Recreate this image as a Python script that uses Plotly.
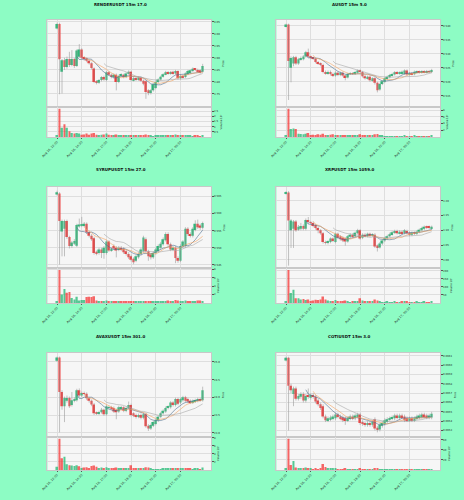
import plotly.graph_objects as go
import pandas as pd

BG = "#8dfcc4"
PLOT_BG = "#f6f6f6"
UP = "#1fb872"
DOWN = "#f43434"
WICK = "#9a9a9a"
MA_COLORS = ["#4d6e8e", "#f3a35f", "#a8a8a8"]
MA_WINDOWS = [9, 12, 20]

tick_idx = [0, 10, 20, 30, 40, 50]
tick_labels = ["Aug 16, 12:00", "Aug 16, 14:30", "Aug 16, 17:00",
               "Aug 16, 19:30", "Aug 16, 22:00", "Aug 17, 00:30"]

# ---------- RENDERUSDT ----------
render_open = [4.022, 4.040, 3.842, 3.890, 3.862, 3.895, 3.870, 3.895, 3.866, 3.905,
               3.935, 3.900, 3.898, 3.888, 3.878, 3.856, 3.802, 3.797, 3.808, 3.820,
               3.808, 3.840, 3.830, 3.820, 3.830, 3.800, 3.825, 3.830, 3.820, 3.835,
               3.842, 3.808, 3.815, 3.810, 3.818, 3.805, 3.803, 3.765, 3.754, 3.765,
               3.775, 3.800, 3.810, 3.822, 3.832, 3.840, 3.835, 3.842, 3.835, 3.845,
               3.815, 3.825, 3.820, 3.832, 3.840, 3.845, 3.855, 3.850, 3.848, 3.842]
render_high = [4.046, 4.046, 3.895, 3.900, 3.905, 3.925, 3.932, 3.900, 3.935, 3.957,
               3.940, 3.905, 3.902, 3.892, 3.882, 3.860, 3.808, 3.812, 3.824, 3.826,
               3.845, 3.845, 3.835, 3.835, 3.835, 3.830, 3.836, 3.834, 3.840, 3.848,
               3.846, 3.820, 3.820, 3.822, 3.822, 3.810, 3.806, 3.770, 3.770, 3.795,
               3.805, 3.815, 3.826, 3.836, 3.846, 3.845, 3.845, 3.846, 3.850, 3.848,
               3.830, 3.830, 3.840, 3.850, 3.852, 3.860, 3.858, 3.855, 3.852, 3.875]
render_low = [4.018, 3.749, 3.752, 3.850, 3.855, 3.862, 3.865, 3.858, 3.862, 3.900,
              3.895, 3.888, 3.882, 3.872, 3.852, 3.795, 3.790, 3.792, 3.802, 3.805,
              3.802, 3.825, 3.815, 3.815, 3.765, 3.795, 3.820, 3.815, 3.816, 3.830,
              3.802, 3.802, 3.805, 3.805, 3.800, 3.786, 3.730, 3.745, 3.748, 3.760,
              3.770, 3.795, 3.805, 3.818, 3.828, 3.830, 3.830, 3.830, 3.830, 3.810,
              3.810, 3.815, 3.816, 3.828, 3.836, 3.840, 3.845, 3.840, 3.835, 3.838]
render_close = [4.040, 3.894, 3.890, 3.862, 3.895, 3.870, 3.895, 3.866, 3.930, 3.935,
                3.900, 3.896, 3.888, 3.878, 3.858, 3.800, 3.797, 3.808, 3.820, 3.810,
                3.840, 3.830, 3.820, 3.830, 3.800, 3.825, 3.830, 3.820, 3.835, 3.842,
                3.808, 3.815, 3.810, 3.818, 3.805, 3.792, 3.758, 3.754, 3.765, 3.790,
                3.800, 3.810, 3.822, 3.832, 3.840, 3.835, 3.840, 3.835, 3.845, 3.815,
                3.825, 3.820, 3.835, 3.845, 3.848, 3.855, 3.850, 3.845, 3.840, 3.866]
render_volume = [0.10, 2.75, 0.90, 1.23, 0.90, 0.57, 0.40, 0.33, 0.40, 0.33,
                 0.22, 0.25, 0.33, 0.22, 0.33, 0.40, 0.22, 0.18, 0.22, 0.25,
                 0.33, 0.22, 0.18, 0.15, 0.25, 0.15, 0.12, 0.10, 0.12, 0.15,
                 0.20, 0.12, 0.10, 0.12, 0.15, 0.12, 0.25, 0.15, 0.10, 0.08,
                 0.10, 0.10, 0.12, 0.10, 0.15, 0.12, 0.10, 0.18, 0.25, 0.15,
                 0.10, 0.12, 0.10, 0.15, 0.10, 0.08, 0.12, 0.10, 0.08, 0.12]

# ---------- AUSDT ----------
a_open = [0.5397, 0.5404, 0.5250, 0.5265, 0.5287, 0.5265, 0.5280, 0.5280, 0.5290, 0.5305,
          0.5290, 0.5285, 0.5282, 0.5270, 0.5265, 0.5260, 0.5235, 0.5230, 0.5235, 0.5228,
          0.5222, 0.5232, 0.5225, 0.5232, 0.5222, 0.5215, 0.5228, 0.5230, 0.5228, 0.5232,
          0.5240, 0.5235, 0.5220, 0.5212, 0.5218, 0.5205, 0.5212, 0.5196, 0.5172, 0.5192,
          0.5200, 0.5210, 0.5216, 0.5222, 0.5226, 0.5234, 0.5229, 0.5230, 0.5228, 0.5240,
          0.5226, 0.5231, 0.5227, 0.5233, 0.5236, 0.5233, 0.5237, 0.5234, 0.5238, 0.5235]
a_high = [0.5407, 0.5407, 0.5290, 0.5292, 0.5292, 0.5285, 0.5290, 0.5295, 0.5310, 0.5318,
          0.5293, 0.5289, 0.5286, 0.5274, 0.5269, 0.5264, 0.5240, 0.5240, 0.5240, 0.5232,
          0.5237, 0.5236, 0.5236, 0.5236, 0.5226, 0.5232, 0.5234, 0.5234, 0.5239, 0.5244,
          0.5244, 0.5239, 0.5224, 0.5222, 0.5222, 0.5216, 0.5216, 0.5200, 0.5196, 0.5206,
          0.5216, 0.5222, 0.5228, 0.5232, 0.5238, 0.5238, 0.5237, 0.5240, 0.5244, 0.5244,
          0.5235, 0.5235, 0.5240, 0.5240, 0.5240, 0.5241, 0.5241, 0.5242, 0.5242, 0.5246]
a_low = [0.5394, 0.5135, 0.5198, 0.5255, 0.5260, 0.5260, 0.5275, 0.5276, 0.5286, 0.5286,
         0.5280, 0.5278, 0.5266, 0.5260, 0.5255, 0.5230, 0.5225, 0.5225, 0.5222, 0.5217,
         0.5218, 0.5220, 0.5220, 0.5218, 0.5205, 0.5212, 0.5224, 0.5224, 0.5224, 0.5228,
         0.5230, 0.5215, 0.5208, 0.5208, 0.5200, 0.5200, 0.5190, 0.5162, 0.5168, 0.5188,
         0.5196, 0.5206, 0.5212, 0.5218, 0.5222, 0.5226, 0.5225, 0.5226, 0.5224, 0.5222,
         0.5222, 0.5223, 0.5223, 0.5229, 0.5229, 0.5229, 0.5230, 0.5230, 0.5231, 0.5231]
a_close = [0.5404, 0.5274, 0.5285, 0.5287, 0.5265, 0.5280, 0.5285, 0.5290, 0.5305, 0.5290,
           0.5285, 0.5282, 0.5270, 0.5265, 0.5260, 0.5235, 0.5230, 0.5235, 0.5228, 0.5222,
           0.5232, 0.5225, 0.5232, 0.5222, 0.5215, 0.5228, 0.5230, 0.5228, 0.5235, 0.5240,
           0.5235, 0.5220, 0.5212, 0.5218, 0.5205, 0.5212, 0.5196, 0.5170, 0.5192, 0.5202,
           0.5212, 0.5218, 0.5224, 0.5228, 0.5234, 0.5230, 0.5233, 0.5236, 0.5240, 0.5226,
           0.5231, 0.5227, 0.5236, 0.5236, 0.5233, 0.5237, 0.5234, 0.5238, 0.5235, 0.5242]
a_volume = [0.3, 8.4, 2.4, 2.5, 2.4, 1.0, 0.9, 0.8, 1.0, 1.2,
            0.5, 0.7, 0.5, 0.8, 0.7, 1.0, 0.6, 0.5, 0.7, 0.8,
            0.6, 0.4, 0.5, 0.3, 0.6, 0.4, 0.3, 0.3, 0.5, 0.4,
            0.8, 0.4, 0.3, 0.3, 0.4, 0.5, 0.8, 0.9, 0.4, 0.3,
            0.2, 0.2, 0.2, 0.2, 0.2, 0.2, 0.2, 0.2, 0.3, 0.2,
            0.2, 0.2, 0.3, 0.2, 0.2, 0.2, 0.2, 0.2, 0.2, 0.3]

# ---------- SYRUPUSDT ----------
syrup_open = [0.5655, 0.5658, 0.5547, 0.5555, 0.5578, 0.5531, 0.5505, 0.5512, 0.5506, 0.5562,
              0.5565, 0.5565, 0.5570, 0.5545, 0.5535, 0.5528, 0.5488, 0.5485, 0.5495, 0.5485,
              0.5485, 0.5518, 0.5492, 0.5505, 0.5500, 0.5495, 0.5500, 0.5497, 0.5490, 0.5482,
              0.5475, 0.5468, 0.5462, 0.5472, 0.5482, 0.5490, 0.5525, 0.5490, 0.5480, 0.5472,
              0.5485, 0.5490, 0.5500, 0.5510, 0.5522, 0.5540, 0.5510, 0.5495, 0.5500, 0.5470,
              0.5462, 0.5505, 0.5505, 0.5555, 0.5540, 0.5535, 0.5552, 0.5570, 0.5565, 0.5558]
syrup_high = [0.5666, 0.5662, 0.5582, 0.5582, 0.5582, 0.5535, 0.5520, 0.5525, 0.5570, 0.5585,
              0.5590, 0.5575, 0.5574, 0.5550, 0.5540, 0.5532, 0.5492, 0.5500, 0.5500, 0.5505,
              0.5522, 0.5522, 0.5502, 0.5510, 0.5505, 0.5505, 0.5505, 0.5502, 0.5495, 0.5487,
              0.5480, 0.5472, 0.5480, 0.5487, 0.5500, 0.5535, 0.5530, 0.5494, 0.5484, 0.5490,
              0.5500, 0.5510, 0.5517, 0.5530, 0.5545, 0.5545, 0.5515, 0.5505, 0.5505, 0.5475,
              0.5510, 0.5522, 0.5560, 0.5560, 0.5545, 0.5560, 0.5580, 0.5582, 0.5570, 0.5576]
syrup_low = [0.5652, 0.5451, 0.5475, 0.5475, 0.5526, 0.5498, 0.5500, 0.5508, 0.5502, 0.5558,
             0.5560, 0.5560, 0.5540, 0.5530, 0.5520, 0.5480, 0.5478, 0.5480, 0.5470, 0.5468,
             0.5480, 0.5488, 0.5488, 0.5494, 0.5472, 0.5490, 0.5490, 0.5482, 0.5477, 0.5467,
             0.5460, 0.5452, 0.5458, 0.5468, 0.5478, 0.5486, 0.5486, 0.5462, 0.5466, 0.5468,
             0.5480, 0.5486, 0.5496, 0.5506, 0.5518, 0.5506, 0.5490, 0.5490, 0.5455, 0.5456,
             0.5458, 0.5500, 0.5500, 0.5535, 0.5530, 0.5530, 0.5548, 0.5555, 0.5552, 0.5553]
syrup_close = [0.5662, 0.5578, 0.5578, 0.5578, 0.5531, 0.5505, 0.5515, 0.5520, 0.5566, 0.5568,
               0.5568, 0.5570, 0.5545, 0.5535, 0.5525, 0.5485, 0.5484, 0.5495, 0.5485, 0.5500,
               0.5518, 0.5492, 0.5497, 0.5498, 0.5492, 0.5500, 0.5495, 0.5487, 0.5482, 0.5472,
               0.5465, 0.5458, 0.5475, 0.5482, 0.5495, 0.5530, 0.5490, 0.5475, 0.5472, 0.5485,
               0.5495, 0.5505, 0.5512, 0.5525, 0.5540, 0.5510, 0.5495, 0.5500, 0.5470, 0.5462,
               0.5505, 0.5518, 0.5555, 0.5540, 0.5535, 0.5555, 0.5570, 0.5560, 0.5558, 0.5572]
syrup_volume = [0.3, 7.8, 2.0, 3.3, 2.4, 2.6, 1.2, 0.8, 1.5, 0.6,
                0.7, 0.7, 1.4, 1.5, 1.4, 1.6, 0.6, 0.4, 0.5, 0.4,
                0.6, 0.4, 0.3, 0.3, 0.5, 0.3, 0.3, 0.3, 0.3, 0.3,
                0.3, 0.3, 0.3, 0.3, 0.3, 0.3, 0.3, 0.5, 0.3, 0.4,
                0.5, 0.3, 0.3, 0.4, 0.5, 0.6, 0.4, 0.4, 0.7, 0.6,
                0.3, 0.3, 0.6, 0.4, 0.3, 0.3, 0.4, 0.6, 0.6, 0.3]

# ---------- XRPUSDT ----------
xrp_open = [3.224, 3.228, 3.100, 3.105, 3.130, 3.102, 3.105, 3.115, 3.105, 3.135,
            3.128, 3.125, 3.118, 3.108, 3.100, 3.090, 3.060, 3.058, 3.060, 3.072,
            3.060, 3.088, 3.080, 3.075, 3.072, 3.062, 3.078, 3.085, 3.080, 3.090,
            3.100, 3.075, 3.085, 3.080, 3.088, 3.082, 3.085, 3.048, 3.042, 3.055,
            3.065, 3.073, 3.080, 3.087, 3.092, 3.098, 3.090, 3.095, 3.090, 3.098,
            3.092, 3.085, 3.092, 3.088, 3.095, 3.100, 3.105, 3.112, 3.112, 3.106]
xrp_high = [3.233, 3.233, 3.138, 3.135, 3.135, 3.118, 3.125, 3.120, 3.140, 3.145,
            3.132, 3.130, 3.122, 3.112, 3.104, 3.094, 3.065, 3.066, 3.076, 3.076,
            3.092, 3.092, 3.084, 3.080, 3.076, 3.084, 3.090, 3.090, 3.096, 3.105,
            3.104, 3.090, 3.090, 3.092, 3.092, 3.090, 3.090, 3.052, 3.060, 3.070,
            3.078, 3.085, 3.092, 3.098, 3.102, 3.102, 3.100, 3.100, 3.104, 3.102,
            3.096, 3.096, 3.096, 3.100, 3.106, 3.112, 3.116, 3.116, 3.116, 3.116]
xrp_low = [3.221, 2.980, 3.040, 3.040, 3.095, 3.098, 3.100, 3.100, 3.100, 3.122,
           3.120, 3.110, 3.102, 3.090, 3.085, 3.055, 3.052, 3.052, 3.056, 3.060,
           3.056, 3.070, 3.065, 3.060, 3.048, 3.058, 3.074, 3.075, 3.076, 3.086,
           3.068, 3.070, 3.076, 3.076, 3.078, 3.078, 3.040, 3.028, 3.038, 3.050,
           3.060, 3.068, 3.076, 3.082, 3.088, 3.086, 3.086, 3.086, 3.086, 3.086,
           3.080, 3.080, 3.084, 3.084, 3.090, 3.096, 3.100, 3.104, 3.104, 3.102]
xrp_close = [3.230, 3.133, 3.133, 3.130, 3.100, 3.112, 3.115, 3.105, 3.135, 3.128,
             3.125, 3.115, 3.108, 3.100, 3.090, 3.060, 3.057, 3.062, 3.072, 3.066,
             3.088, 3.075, 3.070, 3.065, 3.062, 3.080, 3.085, 3.080, 3.092, 3.100,
             3.072, 3.085, 3.080, 3.088, 3.082, 3.085, 3.045, 3.040, 3.055, 3.065,
             3.073, 3.080, 3.087, 3.093, 3.098, 3.090, 3.095, 3.090, 3.100, 3.090,
             3.085, 3.092, 3.088, 3.095, 3.102, 3.108, 3.112, 3.108, 3.108, 3.112]
xrp_volume = [8, 205, 62, 82, 30, 30, 22, 25, 18, 22,
              12, 15, 20, 18, 22, 40, 22, 15, 12, 10,
              18, 12, 10, 8, 15, 8, 6, 8, 10, 10,
              30, 15, 10, 8, 10, 12, 22, 15, 8, 6,
              6, 8, 6, 6, 10, 6, 6, 8, 8, 8,
              6, 6, 6, 8, 6, 6, 8, 6, 6, 8]

# ---------- AVAXUSDT ----------
avax_open = [25.03, 25.12, 24.15, 23.75, 23.90, 23.98, 23.78, 23.90, 23.92, 24.20,
             24.05, 24.12, 24.10, 23.97, 23.90, 23.80, 23.57, 23.55, 23.58, 23.65,
             23.52, 23.70, 23.72, 23.70, 23.65, 23.60, 23.68, 23.72, 23.62, 23.70,
             23.78, 23.55, 23.50, 23.45, 23.50, 23.42, 23.52, 23.20, 23.12, 23.20,
             23.25, 23.35, 23.45, 23.55, 23.60, 23.70, 23.72, 23.85, 23.78, 23.95,
             23.85, 23.92, 24.00, 23.95, 23.90, 23.85, 23.88, 23.90, 23.95, 23.92]
avax_high = [25.15, 25.15, 24.20, 24.02, 24.05, 24.02, 24.15, 24.00, 24.24, 24.25,
             24.16, 24.16, 24.14, 24.00, 23.94, 23.84, 23.60, 23.62, 23.70, 23.68,
             23.78, 23.76, 23.76, 23.74, 23.68, 23.76, 23.76, 23.75, 23.74, 23.88,
             23.82, 23.58, 23.54, 23.54, 23.54, 23.56, 23.56, 23.24, 23.26, 23.34,
             23.39, 23.49, 23.59, 23.66, 23.74, 23.77, 23.89, 23.89, 23.99, 23.99,
             23.99, 24.04, 24.04, 23.99, 23.94, 23.94, 23.96, 23.99, 23.99, 24.30]
avax_low = [25.00, 23.01, 23.65, 23.30, 23.85, 23.70, 23.74, 23.86, 23.88, 24.00,
            24.00, 24.05, 23.92, 23.85, 23.75, 23.50, 23.50, 23.50, 23.54, 23.48,
            23.48, 23.66, 23.64, 23.56, 23.38, 23.56, 23.64, 23.58, 23.58, 23.66,
            23.46, 23.44, 23.40, 23.41, 23.38, 23.38, 23.14, 23.05, 23.08, 23.16,
            23.21, 23.31, 23.41, 23.51, 23.56, 23.66, 23.68, 23.74, 23.74, 23.78,
            23.81, 23.88, 23.86, 23.84, 23.81, 23.81, 23.84, 23.86, 23.88, 23.88]
avax_close = [25.12, 24.15, 23.75, 23.98, 23.98, 23.75, 23.92, 23.95, 24.20, 24.05,
              24.12, 24.10, 23.97, 23.90, 23.80, 23.55, 23.55, 23.58, 23.65, 23.52,
              23.75, 23.72, 23.68, 23.60, 23.58, 23.72, 23.72, 23.62, 23.70, 23.78,
              23.50, 23.48, 23.45, 23.50, 23.42, 23.52, 23.18, 23.12, 23.22, 23.30,
              23.35, 23.45, 23.55, 23.62, 23.70, 23.73, 23.85, 23.78, 23.95, 23.82,
              23.95, 24.00, 23.90, 23.88, 23.85, 23.90, 23.92, 23.95, 23.92, 24.20]
avax_volume = [0.8, 7.7, 2.9, 3.3, 1.4, 1.2, 1.1, 1.0, 1.2, 0.9,
               0.5, 0.6, 0.7, 0.5, 1.0, 1.1, 0.8, 0.5, 0.6, 0.5,
               0.7, 0.4, 0.3, 0.4, 0.6, 0.3, 0.3, 0.4, 0.3, 0.4,
               1.2, 0.5, 0.4, 0.3, 0.4, 0.5, 0.7, 0.6, 0.3, 0.2,
               0.2, 0.2, 0.2, 0.3, 0.3, 0.4, 0.4, 0.3, 0.5, 0.4,
               0.3, 0.4, 0.3, 0.3, 0.3, 0.2, 0.3, 0.3, 0.2, 0.6]

# ---------- COTIUSDT ----------
coti_open = [0.06605, 0.06608, 0.06578, 0.06569, 0.06575, 0.06564, 0.06566, 0.06569, 0.06562, 0.06568,
             0.06565, 0.06568, 0.06566, 0.06562, 0.06558, 0.06556, 0.06545, 0.06541, 0.06542, 0.06543,
             0.06543, 0.06547, 0.06545, 0.06544, 0.06543, 0.06541, 0.06543, 0.06545, 0.06543, 0.06545,
             0.06547, 0.06539, 0.06537, 0.06536, 0.06538, 0.06536, 0.06542, 0.06533, 0.06531, 0.06535,
             0.06537, 0.06540, 0.06542, 0.06543, 0.06543, 0.06546, 0.06544, 0.06546, 0.06545, 0.06543,
             0.06541, 0.06543, 0.06541, 0.06543, 0.06544, 0.06545, 0.06547, 0.06546, 0.06544, 0.06544]
coti_high = [0.06609, 0.06609, 0.06580, 0.06577, 0.06577, 0.06569, 0.06571, 0.06571, 0.06569, 0.06575,
             0.06570, 0.06570, 0.06568, 0.06564, 0.06560, 0.06558, 0.06547, 0.06545, 0.06546, 0.06547,
             0.06549, 0.06549, 0.06547, 0.06546, 0.06545, 0.06545, 0.06547, 0.06547, 0.06548, 0.06549,
             0.06549, 0.06541, 0.06539, 0.06540, 0.06540, 0.06541, 0.06544, 0.06535, 0.06538, 0.06540,
             0.06543, 0.06544, 0.06545, 0.06546, 0.06548, 0.06548, 0.06548, 0.06548, 0.06547, 0.06545,
             0.06545, 0.06545, 0.06545, 0.06547, 0.06548, 0.06549, 0.06549, 0.06548, 0.06548, 0.06550]
coti_low = [0.06604, 0.06530, 0.06570, 0.06556, 0.06562, 0.06562, 0.06564, 0.06560, 0.06560, 0.06564,
            0.06563, 0.06564, 0.06559, 0.06556, 0.06552, 0.06543, 0.06539, 0.06539, 0.06540, 0.06541,
            0.06541, 0.06543, 0.06541, 0.06539, 0.06536, 0.06539, 0.06541, 0.06541, 0.06541, 0.06543,
            0.06536, 0.06535, 0.06534, 0.06534, 0.06534, 0.06534, 0.06530, 0.06528, 0.06529, 0.06533,
            0.06535, 0.06538, 0.06540, 0.06541, 0.06541, 0.06542, 0.06542, 0.06542, 0.06539, 0.06539,
            0.06539, 0.06539, 0.06539, 0.06541, 0.06542, 0.06543, 0.06543, 0.06542, 0.06542, 0.06542]
coti_close = [0.06608, 0.06578, 0.06573, 0.06575, 0.06564, 0.06567, 0.06569, 0.06562, 0.06567, 0.06566,
              0.06568, 0.06566, 0.06561, 0.06558, 0.06554, 0.06545, 0.06541, 0.06543, 0.06544, 0.06545,
              0.06547, 0.06545, 0.06543, 0.06541, 0.06541, 0.06543, 0.06545, 0.06543, 0.06546, 0.06547,
              0.06538, 0.06537, 0.06536, 0.06538, 0.06536, 0.06539, 0.06532, 0.06531, 0.06536, 0.06538,
              0.06541, 0.06542, 0.06543, 0.06544, 0.06546, 0.06544, 0.06546, 0.06544, 0.06541, 0.06541,
              0.06543, 0.06541, 0.06543, 0.06545, 0.06546, 0.06547, 0.06545, 0.06544, 0.06546, 0.06548]
coti_volume = [3, 62, 10, 18, 5, 4, 3, 3, 5, 4,
               3, 2, 3, 2, 4, 12, 6, 4, 3, 3,
               4, 2, 2, 2, 3, 2, 2, 2, 2, 2,
               3, 2, 2, 2, 2, 2, 4, 3, 2, 1,
               1, 1, 1, 1, 2, 1, 2, 1, 1, 1,
               1, 1, 2, 1, 1, 1, 1, 1, 1, 1]

titles = ["RENDERUSDT 15m 17.0", "AUSDT 15m 5.0", "SYRUPUSDT 15m 27.0",
          "XRPUSDT 15m 1059.0", "AVAXUSDT 15m 301.0", "COTIUSDT 15m 3.0"]

price_ticks = [
    [3.75, 3.80, 3.85, 3.90, 3.95, 4.00, 4.05],
    [0.515, 0.520, 0.525, 0.530, 0.535, 0.540],
    [0.545, 0.550, 0.555, 0.560, 0.565],
    [3.00, 3.05, 3.10, 3.15, 3.20],
    [23.0, 23.5, 24.0, 24.5, 25.0],
    [0.0653, 0.0654, 0.0655, 0.0656, 0.0657, 0.0658, 0.0659, 0.0660, 0.0661],
]
price_formats = [".2f", ".3f", ".3f", ".2f", ".1f", ".4f"]
price_ranges = [[3.696, 4.057], [0.5110, 0.5420], [0.5441, 0.5677],
                [2.972, 3.247], [22.88, 25.25], [0.06523, 0.06613]]
volume_ticks = [[0.5, 1.0, 1.5, 2.0, 2.5], [2, 4, 6, 8], [2, 4, 6, 8],
                [50, 100, 150, 200], [2, 4, 6, 8], [20, 40, 60]]
volume_labels = ["Volume 10⁵", "Volume 10⁵", "Volume 10⁵",
                 "Volume 10⁶", "Volume 10⁵", "Volume 10⁵"]

panels = [
    (render_open, render_high, render_low, render_close, render_volume),
    (a_open, a_high, a_low, a_close, a_volume),
    (syrup_open, syrup_high, syrup_low, syrup_close, syrup_volume),
    (xrp_open, xrp_high, xrp_low, xrp_close, xrp_volume),
    (avax_open, avax_high, avax_low, avax_close, avax_volume),
    (coti_open, coti_high, coti_low, coti_close, coti_volume),
]

# layout grid (pixel rows: price top, price/volume split, volume bottom)
W, H = 464, 500
col_x = [(42, 208), (274, 440)]
row_y = [(20, 107, 137), (187, 268, 303), (353, 437, 470)]
title_y = [4, 169.5, 336.5]

TICK_FONT = dict(family="DejaVu Sans", size=2.6, color="#222222")
XTICK_FONT = dict(family="DejaVu Sans", size=3.0, color="#222222")
X_RANGE = [-3.9, 62.5]

fig = go.Figure()
layout = {}

for k, (o, h, l, c, v) in enumerate(panels):
    row, col = divmod(k, 2)
    pn, vn = 2 * k + 1, 2 * k + 2
    px_ref, py_ref = ("x", "y") if pn == 1 else (f"x{pn}", f"y{pn}")
    vx_ref, vy_ref = f"x{vn}", f"y{vn}"
    idx = list(range(len(c)))
    colors = [UP if cc >= oo else DOWN for oo, cc in zip(o, c)]

    # wicks
    wx, wy = [], []
    for i in idx:
        wx += [i, i, None]
        wy += [l[i], h[i], None]
    fig.add_trace(go.Scatter(x=wx, y=wy, mode="lines", line=dict(color=WICK, width=0.6),
                             xaxis=px_ref, yaxis=py_ref, showlegend=False, hoverinfo="skip"))
    # bodies
    fig.add_trace(go.Bar(x=idx, y=[abs(cc - oo) for oo, cc in zip(o, c)],
                         base=[min(oo, cc) for oo, cc in zip(o, c)],
                         width=0.72, marker=dict(color=colors, line=dict(width=0)),
                         xaxis=px_ref, yaxis=py_ref, showlegend=False))
    # moving averages
    closes = pd.Series(c)
    for win, mc in zip(MA_WINDOWS, MA_COLORS):
        fig.add_trace(go.Scatter(x=idx, y=closes.rolling(win).mean(), mode="lines",
                                 line=dict(color=mc, width=0.6),
                                 xaxis=px_ref, yaxis=py_ref, showlegend=False))
    # volume
    fig.add_trace(go.Bar(x=idx, y=v, width=0.72, marker=dict(color=colors, opacity=0.75, line=dict(width=0)),
                         xaxis=vx_ref, yaxis=vy_ref, showlegend=False))

    x0, x1 = col_x[col]
    top, split, bottom = row_y[row]
    xdom = [x0 / W, x1 / W]
    common_x = dict(domain=xdom, range=X_RANGE, tickvals=tick_idx, gridcolor="#dedede",
                    gridwidth=0.5, zeroline=False, showline=True, linecolor="#c8c8c8",
                    linewidth=0.5, mirror=True)
    layout["xaxis" if pn == 1 else f"xaxis{pn}"] = dict(
        common_x, anchor=py_ref, showticklabels=False)
    layout[f"xaxis{vn}"] = dict(
        common_x, anchor=vy_ref, ticktext=tick_labels, tickangle=-45,
        ticks="outside", ticklen=1.5, tickwidth=0.5, tickcolor="#555555", tickfont=XTICK_FONT)
    layout["yaxis" if pn == 1 else f"yaxis{pn}"] = dict(
        domain=[1 - split / H, 1 - top / H], anchor=px_ref, side="right",
        range=price_ranges[k], tickvals=price_ticks[k], tickformat=price_formats[k],
        ticks="outside", ticklen=1.5, tickwidth=0.5, tickcolor="#555555",
        tickfont=TICK_FONT, gridcolor="#dedede", gridwidth=0.5, zeroline=False,
        showline=True, linecolor="#c8c8c8", linewidth=0.5, mirror=True,
        title=dict(text="Price", font=TICK_FONT, standoff=2))
    layout[f"yaxis{vn}"] = dict(
        domain=[1 - bottom / H, 1 - split / H], anchor=vx_ref, side="right",
        range=[0, max(v) * 1.06], tickvals=volume_ticks[k],
        ticks="outside", ticklen=1.5, tickwidth=0.5, tickcolor="#555555",
        tickfont=TICK_FONT, gridcolor="#dedede", gridwidth=0.5, zeroline=False,
        showline=True, linecolor="#c8c8c8", linewidth=0.5, mirror=True,
        title=dict(text=volume_labels[k], font=TICK_FONT, standoff=2))

annotations = []
for k, t in enumerate(titles):
    row, col = divmod(k, 2)
    annotations.append(dict(text=f"<b>{t}</b>", x=0.25 + 0.5 * col, y=1 - title_y[row] / H,
                            xref="paper", yref="paper", showarrow=False,
                            xanchor="center", yanchor="middle",
                            font=dict(family="DejaVu Sans", size=4.0, color="#111111")))

fig.update_layout(
    width=W, height=H,
    margin=dict(l=0, r=0, t=0, b=0),
    paper_bgcolor=BG,
    plot_bgcolor=PLOT_BG,
    barmode="overlay",
    showlegend=False,
    annotations=annotations,
    **layout,
)

# drop the browser's default page margin so the figure fills the window
fig.write_html("out.html",
               config={"displayModeBar": False},
               post_script="document.body.style.margin='0';"
                           f"document.body.style.background='{BG}';")
